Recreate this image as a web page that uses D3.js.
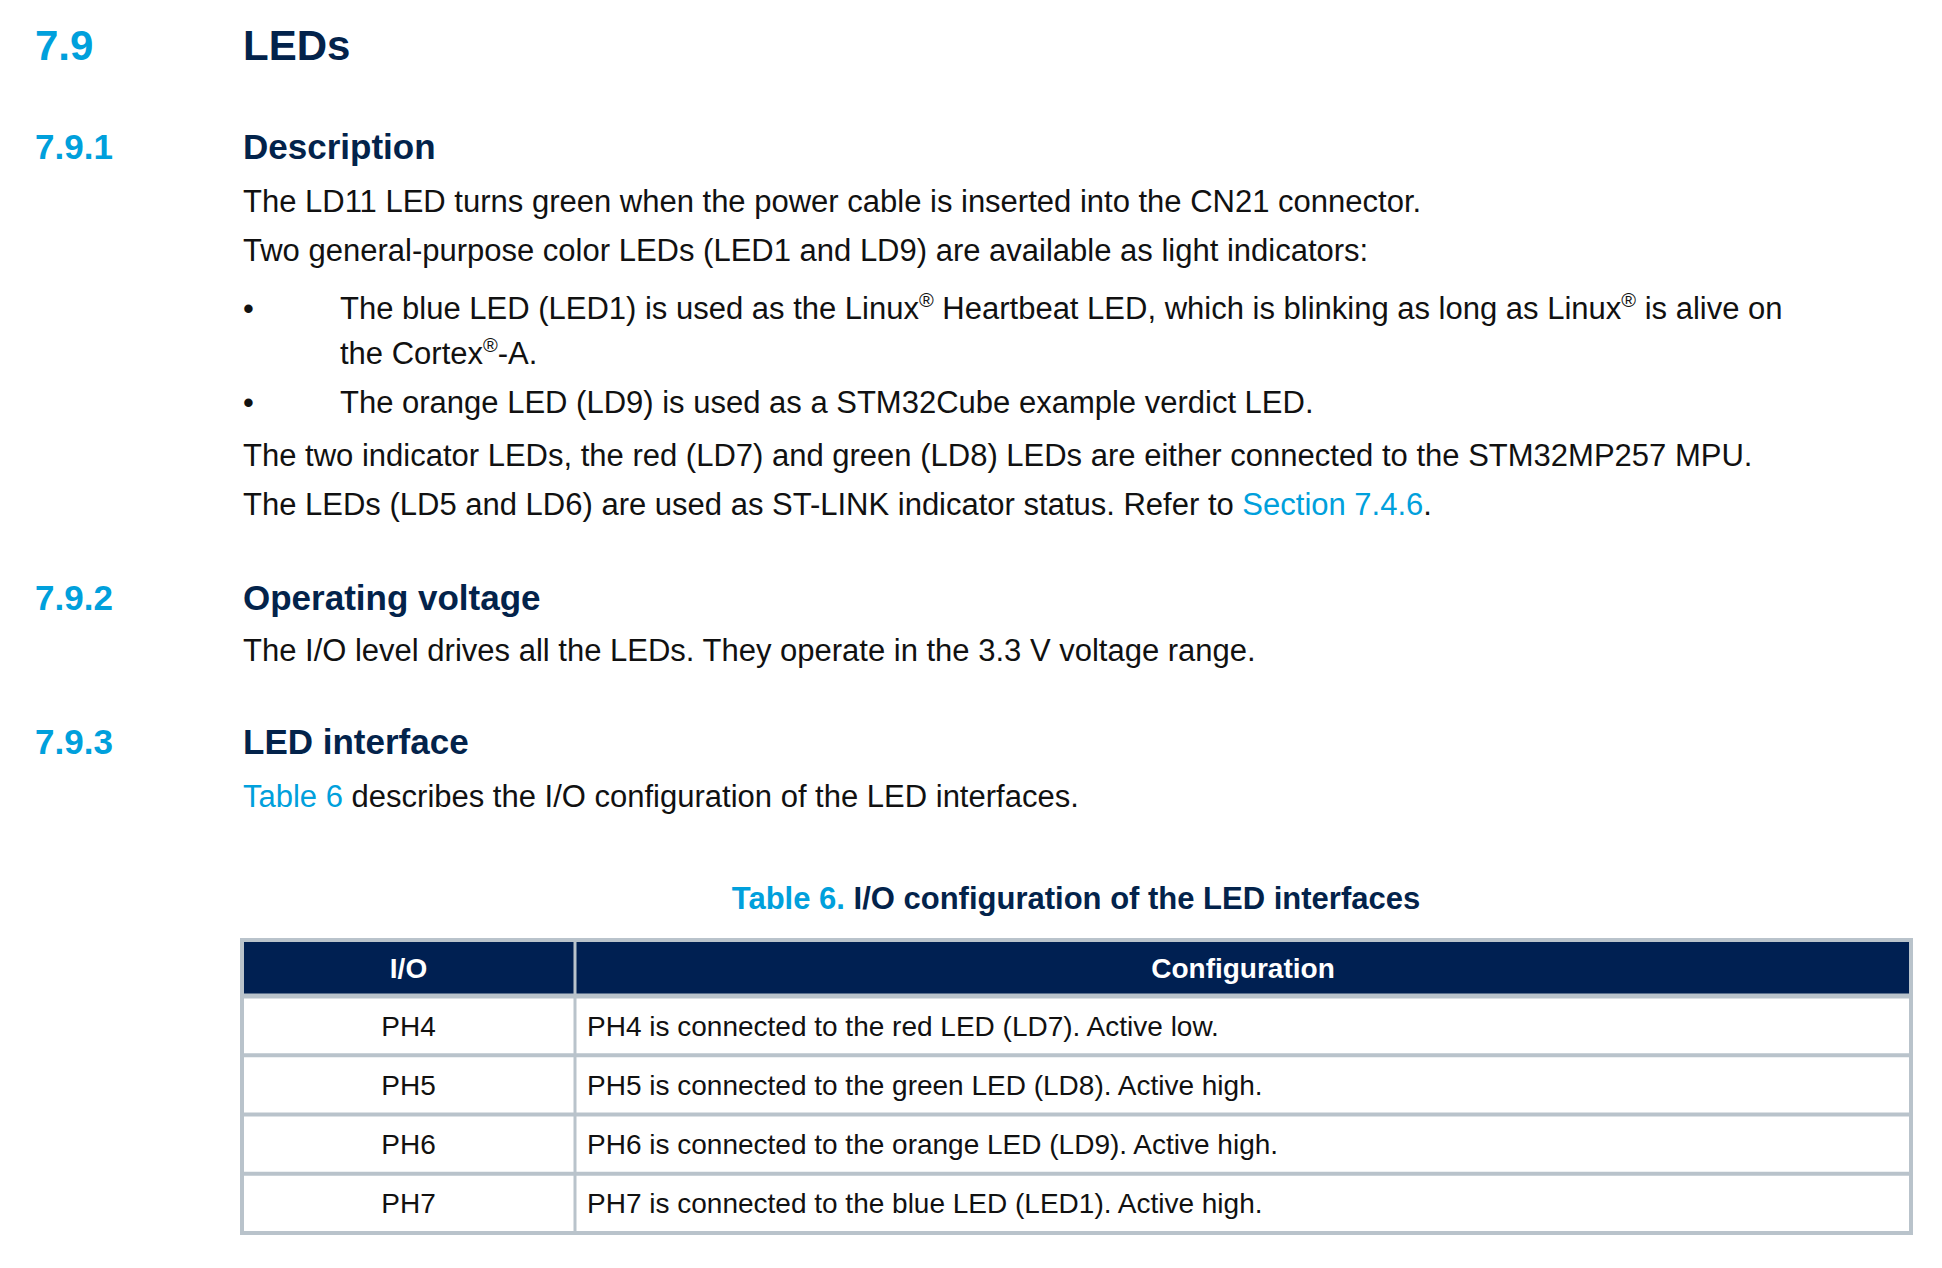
<!DOCTYPE html>
<html><head><meta charset="utf-8">
<script src="https://cdn.jsdelivr.net/npm/d3@7"></script>
<style>body{margin:0;background:#fff}svg{display:block;font-family:"Liberation Sans",Arial,sans-serif}</style>
</head><body><svg id="c" width="1942" height="1268"></svg>
<script>
const ioPins = ["PH4","PH5","PH6","PH7"];
const configs = [
  "PH4 is connected to the red LED (LD7). Active low.",
  "PH5 is connected to the green LED (LD8). Active high.",
  "PH6 is connected to the orange LED (LD9). Active high.",
  "PH7 is connected to the blue LED (LED1). Active high."
];
const headers = ["I/O","Configuration"];

(function(){
const NAVY="#03234b", CYAN="#00a0dc", GRID="#b9c3cb";
const svg=d3.select("#c");
function heading(num,title,y,size){
  svg.append("text").attr("x",35).attr("y",y).attr("fill",CYAN).attr("font-weight","bold").attr("font-size",size).text(num);
  svg.append("text").attr("x",243).attr("y",y).attr("fill",NAVY).attr("font-weight","bold").attr("font-size",size).text(title);
}
function para(parts,x,y){
  const t=svg.append("text").attr("x",x).attr("y",y).attr("font-size",31).attr("fill","#111");
  parts.forEach(p=>{
    const s=t.append("tspan").text(p.t);
    if(p.c) s.attr("fill",CYAN);
    if(p.sup) s.attr("font-size",20).attr("dy",-12);
    if(p.down) s.attr("dy",12);
  });
  return t;
}
heading("7.9","LEDs",60,42);
heading("7.9.1","Description",159,35);
para([{t:"The LD11 LED turns green when the power cable is inserted into the CN21 connector."}],243,212);
para([{t:"Two general-purpose color LEDs (LED1 and LD9) are available as light indicators:"}],243,261);
para([{t:"•"}],243,319);
para([{t:"The blue LED (LED1) is used as the Linux"},{t:"®",sup:1},{t:" Heartbeat LED, which is blinking as long as Linux",down:1},{t:"®",sup:1},{t:" is alive on",down:1}],340,319);
para([{t:"the Cortex"},{t:"®",sup:1},{t:"-A.",down:1}],340,364);
para([{t:"•"}],243,413);
para([{t:"The orange LED (LD9) is used as a STM32Cube example verdict LED."}],340,413);
para([{t:"The two indicator LEDs, the red (LD7) and green (LD8) LEDs are either connected to the STM32MP257 MPU."}],243,466);
para([{t:"The LEDs (LD5 and LD6) are used as ST-LINK indicator status. Refer to "},{t:"Section 7.4.6",c:1},{t:"."}],243,515);
heading("7.9.2","Operating voltage",610,35);
para([{t:"The I/O level drives all the LEDs. They operate in the 3.3 V voltage range."}],243,661);
heading("7.9.3","LED interface",754,35);
para([{t:"Table 6",c:1},{t:" describes the I/O configuration of the LED interfaces."}],243,807);

const tt=svg.append("text").attr("x",1076).attr("y",909).attr("text-anchor","middle").attr("font-size",31).attr("font-weight","bold").attr("fill",NAVY);
tt.append("tspan").attr("fill",CYAN).text("Table 6. ");
tt.append("tspan").text("I/O configuration of the LED interfaces");

const x0=242,x1=575,x2=1911,tTop=940,hb=996,tBot=1233;
const y=d3.scaleBand().domain(ioPins).range([hb,tBot]);
svg.append("rect").attr("x",x0).attr("y",tTop).attr("width",x2-x0).attr("height",hb-tTop).attr("fill","#002052");
headers.forEach((h,i)=>svg.append("text").attr("x",i?(x1+x2)/2:(x0+x1)/2).attr("y",(tTop+hb)/2+10)
  .attr("text-anchor","middle").attr("fill","#fff").attr("font-weight","bold").attr("font-size",28).text(h));
ioPins.forEach((p,i)=>{
  svg.append("text").attr("x",(x0+x1)/2).attr("y",y(p)+y.bandwidth()/2+10).attr("text-anchor","middle").attr("font-size",28).attr("fill","#111").text(p);
  svg.append("text").attr("x",x1+12).attr("y",y(p)+y.bandwidth()/2+10).attr("font-size",28).attr("fill","#111").text(configs[i]);
  svg.append("line").attr("x1",x0).attr("x2",x2).attr("y1",y(p)+y.bandwidth()).attr("y2",y(p)+y.bandwidth()).attr("stroke",GRID).attr("stroke-width",4);
});
svg.append("line").attr("x1",x0).attr("x2",x2).attr("y1",hb).attr("y2",hb).attr("stroke",GRID).attr("stroke-width",5);
svg.append("rect").attr("x",x0).attr("y",tTop).attr("width",x2-x0).attr("height",tBot-tTop).attr("fill","none").attr("stroke",GRID).attr("stroke-width",4);
svg.append("line").attr("x1",x1).attr("x2",x1).attr("y1",tTop).attr("y2",tBot).attr("stroke",GRID).attr("stroke-width",3);
})();
</script></body></html>
